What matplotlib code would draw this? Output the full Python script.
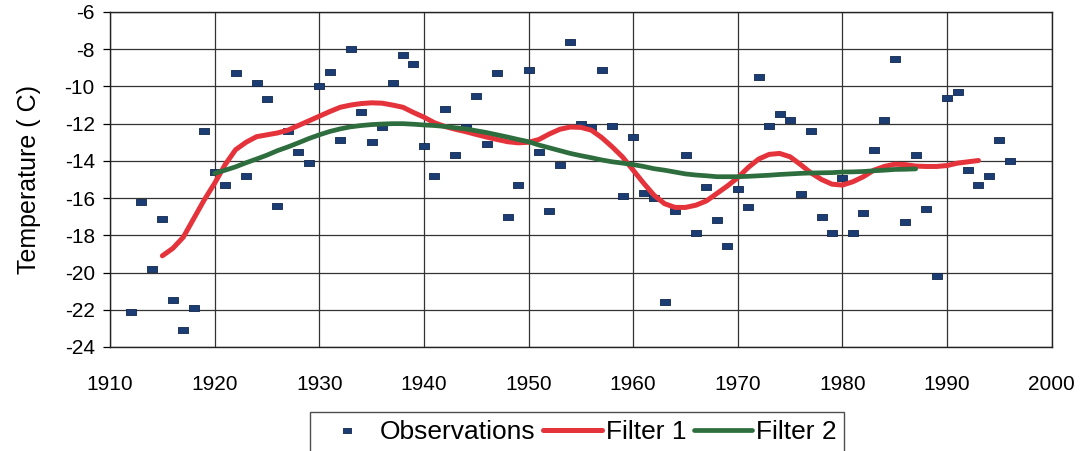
import numpy as np
import matplotlib.pyplot as plt

plt.rcParams["font.family"] = ["Liberation Sans", "DejaVu Sans"]
plt.rcParams["axes.unicode_minus"] = False

# yearly observations
obs_years = list(range(1912, 1997))
obs_temp = [
    -22.1, -16.2, -19.8, -17.1, -21.5, -23.1, -21.9, -12.4, -14.6,   # 1912-1920
    -15.3, -9.3, -14.8, -9.8, -10.7, -16.4, -12.4, -13.5, -14.1, -10.0,  # 1921-1930
    -9.2, -12.9, -8.0, -11.4, -13.0, -12.2, -9.8, -8.3, -8.8, -13.2,   # 1931-1940
    -14.8, -11.2, -13.7, -12.2, -10.5, -13.1, -9.3, -17.0, -15.3, -9.1,  # 1941-1950
    -13.5, -16.7, -14.2, -7.6, -12.0, -12.2, -9.1, -12.1, -15.9, -12.7,  # 1951-1960
    -15.7, -16.0, -21.6, -16.7, -13.7, -17.9, -15.4, -17.2, -18.6, -15.5,  # 1961-1970
    -16.5, -9.5, -12.1, -11.5, -11.8, -15.8, -12.4, -17.0, -17.9, -14.9,  # 1971-1980
    -17.9, -16.8, -13.4, -11.8, -8.5, -17.3, -13.7, -16.6, -20.2, -10.6,  # 1981-1990
    -10.3, -14.5, -15.3, -14.8, -12.9, -14.0,                          # 1991-1996
]

f1_years = list(range(1915, 1994))
f1_temp = [
    -19.1, -18.7, -18.1, -17.1, -16.1, -15.2,
    -14.2, -13.4, -13.0, -12.7, -12.6, -12.5, -12.35, -12.1, -11.85, -11.6,
    -11.35, -11.12, -11.0, -10.92, -10.88, -10.9, -11.0, -11.12, -11.4, -11.65,
    -11.95, -12.15, -12.3, -12.43, -12.58, -12.72, -12.85, -12.97, -13.03, -13.0,
    -12.85, -12.55, -12.3, -12.18, -12.2, -12.35, -12.75, -13.25, -13.8, -14.5,
    -15.2, -15.85, -16.3, -16.5, -16.5, -16.38, -16.15, -15.75, -15.35, -14.9,
    -14.35, -13.9, -13.65, -13.6, -13.78, -14.2, -14.65, -15.0, -15.25, -15.3,
    -15.12, -14.85, -14.5, -14.3, -14.18, -14.2, -14.28, -14.3, -14.3, -14.25,
    -14.12, -14.05, -13.98,
]

f2_years = list(range(1920, 1988))
f2_temp = [
    -14.67,
    -14.5, -14.32, -14.1, -13.9, -13.69, -13.45, -13.25, -13.03, -12.8, -12.6,
    -12.42, -12.28, -12.17, -12.1, -12.05, -12.02, -12.0, -12.0, -12.03, -12.07,
    -12.1, -12.15, -12.22, -12.28, -12.38, -12.48, -12.6, -12.72, -12.85, -12.97,
    -13.15, -13.3, -13.45, -13.6, -13.72, -13.83, -13.95, -14.05, -14.12, -14.2,
    -14.3, -14.42, -14.5, -14.6, -14.7, -14.76, -14.8, -14.85, -14.85, -14.85,
    -14.83, -14.8, -14.77, -14.73, -14.7, -14.67, -14.65, -14.64, -14.63, -14.6,
    -14.59, -14.57, -14.53, -14.5, -14.46, -14.45, -14.43,
]

x_ticks = list(range(1910, 2001, 10))
y_ticks = list(range(-24, -5, 2))

# wide flat rectangle marker like the spreadsheet one
rect = [(-1, -0.6), (1, -0.6), (1, 0.6), (-1, 0.6), (-1, -0.6)]

fig = plt.figure(figsize=(10.82, 4.51), dpi=100)
ax = fig.add_axes([0.1017, 0.2306, 0.8703, 0.7428])

ax.plot(obs_years, obs_temp, linestyle="none", marker=rect, markersize=7.5,
        color="#1b3d74", markeredgecolor="#10264d", markeredgewidth=0.6,
        label="Observations", zorder=3)
ax.plot(f1_years, f1_temp, color="#e5333b", linewidth=3.6,
        solid_capstyle="round", label="Filter 1", zorder=4)
ax.plot(f2_years, f2_temp, color="#2e6d3d", linewidth=3.4,
        solid_capstyle="round", label="Filter 2", zorder=5)

ax.set_xlim(1910, 2000)
ax.set_ylim(-24, -6)
ax.set_xticks(x_ticks)
ax.set_yticks(y_ticks)
ax.grid(True, color="#333333", linewidth=0.9)
ax.set_axisbelow(True)
for s in ax.spines.values():
    s.set_color("#222222")
    s.set_linewidth(1.0)

ax.tick_params(axis="y", length=5, width=0.9, pad=6, labelsize=15)
ax.tick_params(axis="x", length=0, pad=20, labelsize=15)
ax.set_ylabel("Temperature ( C)", fontsize=18, labelpad=17)

leg = fig.legend(loc="upper center", bbox_to_anchor=(0.5335, 0.0865), ncol=3,
                 fontsize=19, frameon=True, fancybox=False, shadow=False,
                 handlelength=2.2, handletextpad=0.15, columnspacing=0.3,
                 borderpad=0.3, borderaxespad=0, markerscale=0.8)
leg.get_frame().set_edgecolor("#222222")
leg.get_frame().set_linewidth(1.0)

fig.savefig("out.png", dpi=100)
